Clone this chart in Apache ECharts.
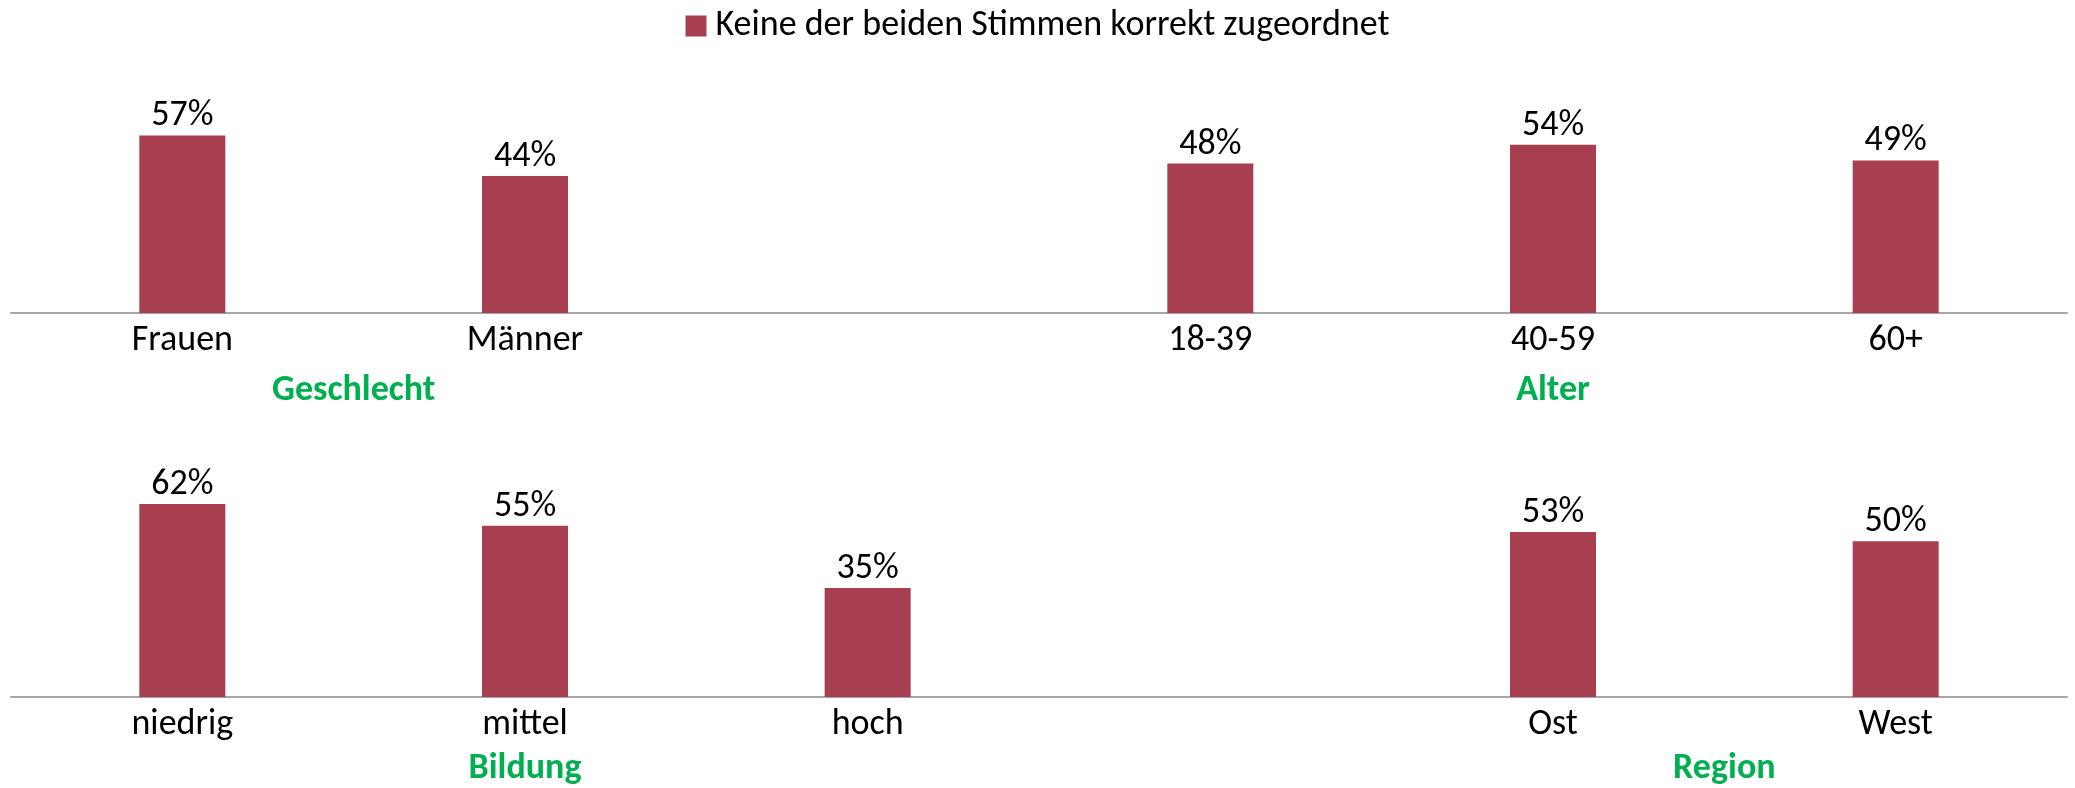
<!DOCTYPE html>
<html>
<head>
<meta charset="utf-8">
<script src="https://cdn.jsdelivr.net/npm/echarts@6/dist/echarts.min.js"></script>
<style>
  html, body { margin: 0; padding: 0; background: #fff; }
  #chart { width: 2075px; height: 788px; }
</style>
</head>
<body>
<div id="chart"></div>
<script>
  // data
  var seriesName = 'Keine der beiden Stimmen korrekt zugeordnet';
  var topCategories = ['Frauen', 'Männer', '', '18-39', '40-59', '60+'];
  var topValues = [57, 44, null, 48, 54, 49];
  var bottomCategories = ['niedrig', 'mittel', 'hoch', ' ', 'Ost', 'West'];
  var bottomValues = [62, 55, 35, null, 53, 50];
  // group captions: which categories they sit under (centre between first and last)
  var topGroups = [
    { name: 'Geschlecht', from: 'Frauen', to: 'Männer' },
    { name: 'Alter', from: '40-59', to: '40-59' }
  ];
  var bottomGroups = [
    { name: 'Bildung', from: 'mittel', to: 'mittel' },
    { name: 'Region', from: 'Ost', to: 'West' }
  ];

  var font = 'Carlito, Lato, "Open Sans", sans-serif';
  var fs = 36;
  var barColor = '#A83F51';
  var green = '#00B050';

  var chart = echarts.init(document.getElementById('chart'));

  function xAxisFor(cats, gridIndex) {
    return {
      type: 'category',
      gridIndex: gridIndex,
      data: cats,
      axisLine: { lineStyle: { color: '#A6A6A6', width: 2 } },
      axisTick: { show: false },
      axisLabel: { color: '#000', fontSize: fs, fontFamily: font, margin: 10, interval: 0 }
    };
  }
  function yAxisFor(gridIndex) {
    return { type: 'value', gridIndex: gridIndex, min: 0, max: 70, show: false };
  }
  function barSeries(values, idx) {
    return {
      name: seriesName,
      type: 'bar',
      xAxisIndex: idx,
      yAxisIndex: idx,
      data: values,
      barWidth: 86,
      itemStyle: { color: barColor },
      label: {
        show: true,
        position: 'top',
        distance: 1,
        formatter: '{c}%',
        color: '#000',
        fontSize: fs,
        fontFamily: font
      }
    };
  }

  var option = {
    animation: false,
    backgroundColor: '#fff',
    legend: {
      top: 3,
      left: 'center',
      itemWidth: 21,
      itemHeight: 21,
      itemGap: 10,
      icon: 'rect',
      textStyle: { color: '#000', fontSize: fs, fontFamily: font, padding: [0, 0, 0, 4] },
      data: [seriesName]
    },
    grid: [
      { left: 11, right: 8, top: 95, height: 218 },
      { left: 11, right: 8, top: 479, height: 218 }
    ],
    xAxis: [xAxisFor(topCategories, 0), xAxisFor(bottomCategories, 1)],
    yAxis: [yAxisFor(0), yAxisFor(1)],
    series: [barSeries(topValues, 0), barSeries(bottomValues, 1)]
  };
  chart.setOption(option);

  // group captions, placed from the axis positions
  function groupTexts(groups, axisIdx, cy) {
    return groups.map(function (g) {
      var x1 = chart.convertToPixel({ xAxisIndex: axisIdx }, g.from);
      var x2 = chart.convertToPixel({ xAxisIndex: axisIdx }, g.to);
      return {
        type: 'text',
        x: (x1 + x2) / 2,
        y: cy,
        style: {
          text: g.name,
          fill: green,
          font: 'bold ' + fs + 'px ' + font,
          align: 'center',
          verticalAlign: 'middle'
        }
      };
    });
  }
  chart.setOption({
    graphic: groupTexts(topGroups, 0, 391).concat(groupTexts(bottomGroups, 1, 769))
  });
</script>
</body>
</html>
